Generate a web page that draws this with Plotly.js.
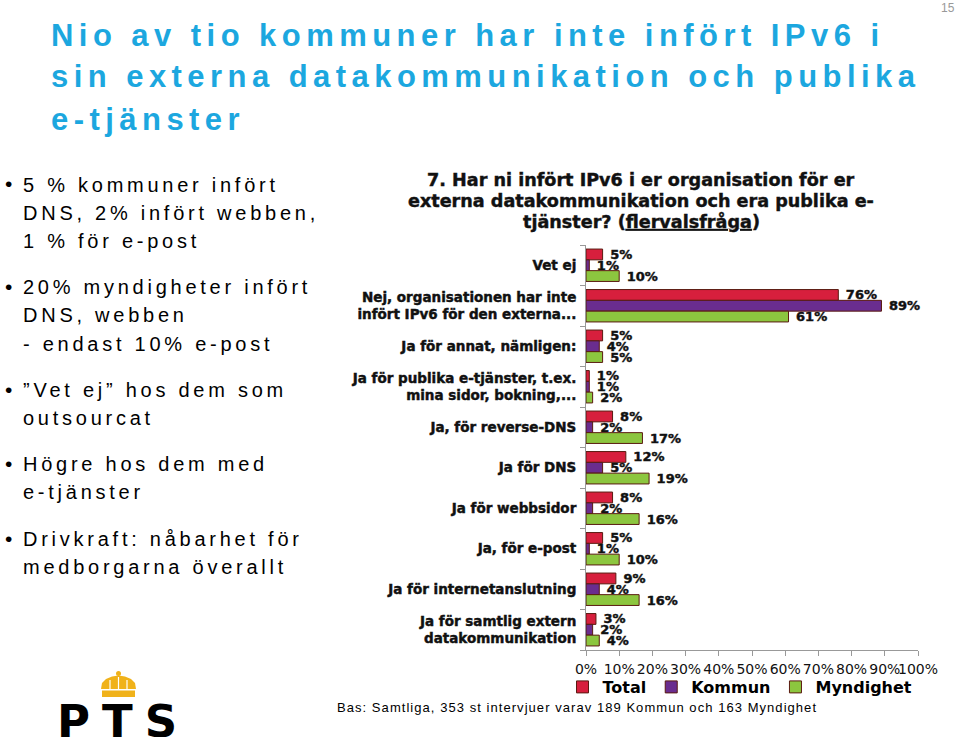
<!DOCTYPE html>
<html>
<head>
<meta charset="utf-8">
<script src="https://cdn.plot.ly/plotly-3.0.1.min.js"></script>
<style>html,body{margin:0;padding:0;background:#fff;}#chart{width:960px;height:737px;}</style>
</head>
<body>
<div id="chart"></div>
<script>
// ---- data ----
const categories = [
  'Vet ej',
  'Nej, organisationen har inte<br>infört IPv6 för den externa...',
  'Ja för annat, nämligen:',
  'Ja för publika e-tjänster, t.ex.<br>mina sidor, bokning,...',
  'Ja, för reverse-DNS',
  'Ja för DNS',
  'Ja för webbsidor',
  'Ja, för e-post',
  'Ja för internetanslutning',
  'Ja för samtlig extern<br>datakommunikation'
];
const seriesNames = ['Total', 'Kommun', 'Myndighet'];
const totalValues = [5, 76, 5, 1, 8, 12, 8, 5, 9, 3];
const kommunValues = [1, 89, 4, 1, 2, 5, 2, 1, 4, 2];
const myndighetValues = [10, 61, 5, 2, 17, 19, 16, 10, 16, 4];
const xTickValues = [0, 10, 20, 30, 40, 50, 60, 70, 80, 90, 100];
const xTickLabels = ['0%', '10%', '20%', '30%', '40%', '50%', '60%', '70%', '80%', '90%', '100%'];

const mainTitle = ['Nio av tio kommuner har inte infört IPv6 i', 'sin externa datakommunikation och publika', 'e-tjänster'];
const chartTitle = ['7. Har ni infört IPv6 i er organisation för er', 'externa datakommunikation och era publika e-', 'tjänster? (<u>flervalsfråga</u>)'];
const bullets = [
  ['5 % kommuner infört', 'DNS, 2% infört webben,', '1 % för e-post'],
  ['20% myndigheter infört', 'DNS, webben', '- endast 10% e-post'],
  ['”Vet ej” hos dem som', 'outsourcat'],
  ['Högre hos dem med', 'e-tjänster'],
  ['Drivkraft: nåbarhet för', 'medborgarna överallt']
];
const footnote = 'Bas: Samtliga, 353 st intervjuer varav 189 Kommun och 163 Myndighet';
const pageNumber = '15';

// ---- layout helpers ----
const W = 960, H = 737;
const px = x => x / W;
const py = y => 1 - y / H;
const colors = ['#d71f3d', '#6a2d8f', '#8cc63f'];
const heavy = s => '<span style="stroke:#111;stroke-width:0.45px">' + s + '</span>';

const seriesValues = [totalValues, kommunValues, myndighetValues];
const traces = seriesNames.map((name, i) => ({
  type: 'bar',
  orientation: 'h',
  name: name,
  y: categories,
  x: seriesValues[i],
  text: seriesValues[i].map(v => heavy('\u00a0' + v + '%')),
  texttemplate: '%{text}',
  textposition: 'outside',
  textfont: {family: 'DejaVu Sans', size: 13, color: '#111', weight: 'bold'},
  constraintext: 'none',
  cliponaxis: false,
  marker: {color: colors[i], line: {color: '#5a1a10', width: 1}},
  hoverinfo: 'skip'
}));

const annotations = [];
// chart title
const chartTitleY = [180, 201, 222];
chartTitle.forEach((t, i) => annotations.push({
  xref: 'paper', yref: 'paper', x: px(641), y: py(chartTitleY[i]), xanchor: 'center', yanchor: 'middle',
  text: '<b>' + heavy(t) + '</b>', showarrow: false,
  font: {family: 'DejaVu Sans', size: 17.6, color: '#111', weight: 'bold'}
}));
// main title
const titleY = [35, 77, 119];
mainTitle.forEach((t, i) => annotations.push({
  xref: 'paper', yref: 'paper', x: px(49), y: py(titleY[i]), xanchor: 'left', yanchor: 'middle',
  text: '<span style="letter-spacing:5.45px">' + t + '</span>', showarrow: false,
  font: {family: 'Liberation Sans', size: 31, color: '#1ca7df', weight: 'bold'}
}));
// bullets
const bulletY = [[185, 213, 241], [287, 315, 344], [390, 418], [464, 492], [539, 567]];
bullets.forEach((lines, g) => {
  annotations.push({
    xref: 'paper', yref: 'paper', x: px(8), y: py(bulletY[g][0] - 1), xanchor: 'center', yanchor: 'middle',
    text: '•', showarrow: false, font: {family: 'Liberation Sans', size: 21, color: '#000'}
  });
  lines.forEach((t, i) => annotations.push({
    xref: 'paper', yref: 'paper', x: px(21), y: py(bulletY[g][i]), xanchor: 'left', yanchor: 'middle',
    text: '<span style="letter-spacing:3.75px">' + t + '</span>', showarrow: false,
    font: {family: 'Liberation Sans', size: 20, color: '#000'}
  }));
});
// footnote
annotations.push({
  xref: 'paper', yref: 'paper', x: px(335), y: py(707), xanchor: 'left', yanchor: 'middle',
  text: '<span style="letter-spacing:1.05px">' + footnote + '</span>', showarrow: false,
  font: {family: 'Liberation Sans', size: 13, color: '#000'}
});
// page number
annotations.push({
  xref: 'paper', yref: 'paper', x: px(957), y: py(8), xanchor: 'right', yanchor: 'middle',
  text: pageNumber, showarrow: false, font: {family: 'Liberation Sans', size: 12, color: '#999'}
});
// PTS logo text
annotations.push({
  xref: 'paper', yref: 'paper', x: px(123), y: py(721), xanchor: 'center', yanchor: 'middle',
  text: '<span style="letter-spacing:12px">PTS</span>', showarrow: false,
  font: {family: 'DejaVu Sans', size: 45, color: '#000', weight: 'bold'}
});

function pathFrom(pts) {
  return 'M ' + pts.map(p => px(p[0]).toFixed(5) + ',' + py(p[1]).toFixed(5)).join(' L ') + ' Z';
}
const gold = '#f0b21a';
const shapes = [
  {type: 'path', xref: 'paper', yref: 'paper', fillcolor: gold, line: {width: 0},
   path: pathFrom([[101, 689], [102, 683], [106, 679], [112, 676.5], [118.5, 675.5], [125, 676.5], [131, 679], [135, 683], [136, 689]])},
  {type: 'rect', xref: 'paper', yref: 'paper', x0: px(102), x1: px(135), y0: py(697), y1: py(690.5), fillcolor: gold, line: {width: 0}},
  {type: 'circle', xref: 'paper', yref: 'paper', x0: px(116), x1: px(121), y0: py(676), y1: py(671), fillcolor: gold, line: {width: 0}},
  {type: 'line', xref: 'paper', yref: 'paper', x0: px(110), x1: px(110), y0: py(680), y1: py(689), line: {color: '#fff', width: 1.2}},
  {type: 'line', xref: 'paper', yref: 'paper', x0: px(118.5), x1: px(118.5), y0: py(677), y1: py(689), line: {color: '#fff', width: 1.2}},
  {type: 'line', xref: 'paper', yref: 'paper', x0: px(127), x1: px(127), y0: py(680), y1: py(689), line: {color: '#fff', width: 1.2}}
];

const layout = {
  width: W, height: H, autosize: false,
  margin: {l: 0, r: 0, t: 0, b: 0},
  paper_bgcolor: '#fff', plot_bgcolor: '#fff',
  barmode: 'group', bargap: 0.2, bargroupgap: 0,
  xaxis: {
    domain: [px(586), px(918)], range: [0, 100], tickvals: xTickValues, ticktext: xTickLabels, tickangle: 0,
    showgrid: false, zeroline: false, showline: true, linecolor: '#999', linewidth: 1,
    ticks: 'outside', ticklen: 5, tickcolor: '#999', ticklabelstandoff: 1,
    tickfont: {family: 'DejaVu Sans', size: 14, color: '#111'}, fixedrange: true
  },
  yaxis: {
    domain: [py(650), py(245)], type: 'category', range: [9.5, -0.5],
    tickvals: categories, ticktext: categories.map(heavy),
    showgrid: false, zeroline: false, showline: true, linecolor: '#999', linewidth: 1,
    ticks: 'outside', ticklen: 5, tickcolor: '#999', tickson: 'boundaries', ticklabelstandoff: 6,
    tickfont: {family: 'DejaVu Sans', size: 13.5, color: '#111', weight: 'bold'}, fixedrange: true
  },
  showlegend: true,
  legend: {
    orientation: 'h', x: px(740), xanchor: 'center', y: py(687), yanchor: 'middle',
    font: {family: 'DejaVu Sans', size: 16, color: '#000', weight: 'bold'},
    itemwidth: 30, bgcolor: 'rgba(0,0,0,0)', traceorder: 'normal'
  },
  annotations: annotations,
  shapes: shapes
};

Plotly.newPlot('chart', traces, layout, {displayModeBar: false, staticPlot: true});
</script>
</body>
</html>
